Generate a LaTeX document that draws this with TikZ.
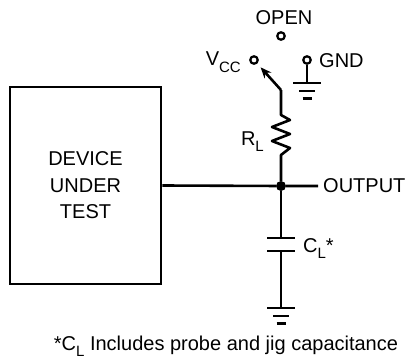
\documentclass[tikz,border=0pt]{standalone}
\usepackage{fontspec}
\setmainfont{Liberation Sans}
\usetikzlibrary{arrows.meta, positioning, calc}
\newcommand{\lowsub}[1]{\raisebox{-0.3em}{\fontsize{15}{15}\selectfont #1}}
\tikzset{wire/.style={line width=2.6pt,line join=round},
         plate/.style={line width=2.8pt},
         dutbox/.style={rectangle,draw,line width=2.8pt,minimum width=151pt,minimum height=197pt,align=center,inner sep=0pt,font=\fontsize{20}{26.5}\selectfont},
         terminal/.style={circle,draw,line width=2.2pt,inner sep=0pt,minimum size=7.5pt,fill=white},
         lbl/.style={inner sep=0pt,font=\fontsize{20}{24}\selectfont},
         junction/.style={circle,fill,inner sep=0pt,minimum size=10pt},
         arrow/.style={-{Stealth[length=11pt,width=9pt]},line width=2.6pt},
         ground/.pic={\draw[line width=2.8pt] (-14,0) -- (14,0) (-8,8) -- (8,8) (-4.5,15.5) -- (4.5,15.5);}}
\begin{document}
\begin{tikzpicture}[x=1pt,y=-1pt]
    \useasboundingbox (0,0) rectangle (416,364);
    \node (dut) [dutbox] at (85.5,185.5) {DEVICE\\UNDER\\TEST};
    \node (jn) [junction] at (281,186) {};
    \coordinate (out) at (318,186);
    \node (outlbl) [lbl, right=5pt of out] {OUTPUT};
    % switch terminals
    \node (open) [terminal] at (281,36) {};
    \node (vcc) [terminal] at (254,60) {};
    \node (gnd) [terminal] at (307,60) {};
    \node (openlbl) [lbl] at (284,18) {OPEN};
    \node (vcclbl) [lbl, anchor=base east] at (241,66) {V\lowsub{CC}};
    \node (gndlbl) [lbl, anchor=base west] at (319,67) {GND};
    \coordinate (pole) at (281,90);
    \coordinate (gndbar) at (307,83);
    % load resistor
    \coordinate (rtop) at (281,115);
    \coordinate (rbot) at (281,155);
    \node (rlbl) [lbl, anchor=base east] at (264,145) {R\lowsub{L}};
    % load capacitor
    \coordinate (ctop) at (281,238);
    \coordinate (cbot) at (281,251);
    \coordinate (cgnd) at (281,308);
    \node (clbl) [lbl, anchor=base west] at (303,252) {C\lowsub{L}*};
    \node (note) [lbl, anchor=base] at (226,350) {*C\lowsub{L} Includes probe and jig capacitance};

    \draw[wire] (dut.east) -- (jn) -- (out);
    \draw[arrow, shorten >=5pt] (pole) -- (vcc);
    \draw[wire] (pole) -- (rtop) -- ++(9,5) -- ++(-18,7) -- ++(18,7) -- ++(-18,7) -- ++(18,7) -- (rbot) -- (jn);
    \draw[wire] (gnd) -- (gndbar);
    \pic at (gndbar) {ground};
    \draw[wire] (jn) -- (ctop);
    \draw[plate] ($(ctop)+(-14,0)$) -- ($(ctop)+(14,0)$);
    \draw[plate] ($(cbot)+(-14,0)$) -- ($(cbot)+(14,0)$);
    \draw[wire] (cbot) -- (cgnd);
    \pic at (cgnd) {ground};
  \end{tikzpicture}
\end{document}
